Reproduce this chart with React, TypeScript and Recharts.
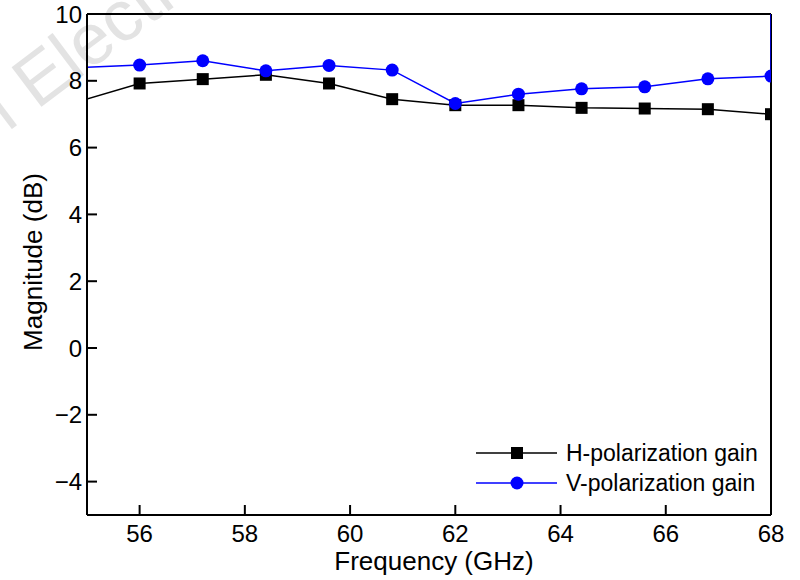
import React from 'react';
import { LineChart, Line, XAxis, YAxis, ReferenceLine, Legend, Customized, Label } from 'recharts';

const frequencies = [54.8, 56, 57.2, 58.4, 59.6, 60.8, 62, 63.2, 64.4, 65.6, 66.8, 68, 68];
const hGain: (number | null)[] = [7.36, 7.92, 8.05, 8.18, 7.92, 7.45, 7.27, 7.27, 7.19, 7.17, 7.15, 7.0, null];
const vGain: (number | null)[] = [8.39, 8.47, 8.6, 8.3, 8.46, 8.32, 7.32, 7.6, 7.76, 7.82, 8.06, 8.14, 10];
const xTicks = [56, 58, 60, 62, 64, 66, 68];
const yTicks = [-4, -2, 0, 2, 4, 6, 8, 10];
const seriesNames = ['H-polarization gain', 'V-polarization gain'];
const markedIndices = [1, 2, 3, 4, 5, 6, 7, 8, 9, 10, 11];

const data = frequencies.map((f, i) => ({ f, h: hGain[i], v: vGain[i] }));

const FONT = '"Liberation Sans", Arial, sans-serif';

const XTick = (props: any) => {
  const { x, y, payload } = props;
  return (
    <g>
      <line x1={x} x2={x} y1={y} y2={y - 10} stroke="#000" strokeWidth={2} />
      <text x={x} y={y + 27} textAnchor="middle" fontSize={24} fontFamily={FONT} fill="#000">
        {payload.value}
      </text>
    </g>
  );
};

const YTick = (props: any) => {
  const { x, y, payload } = props;
  const label = String(payload.value).replace('-', '\u2212');
  return (
    <g>
      <line x1={x} x2={x + 10} y1={y} y2={y} stroke="#000" strokeWidth={2} />
      <text x={x - 5} y={y + 8.5} textAnchor="end" fontSize={24} fontFamily={FONT} fill="#000">
        {label}
      </text>
    </g>
  );
};

const SquareDot = (props: any) => {
  const { cx, cy, index } = props;
  if (!markedIndices.includes(index) || cx == null || cy == null) return <g key={`hs${index}`} />;
  return <rect key={`hs${index}`} x={cx - 6} y={cy - 6} width={12} height={12} fill="#000" />;
};

const CircleDot = (props: any) => {
  const { cx, cy, index } = props;
  if (!markedIndices.includes(index) || cx == null || cy == null) return <g key={`vc${index}`} />;
  return <circle key={`vc${index}`} cx={cx} cy={cy} r={6.5} fill="#0000ff" />;
};

const LegendContent = () => (
  <svg width={300} height={62} style={{ display: 'block', overflow: 'visible' }}>
    <line x1={6} x2={87} y1={15} y2={15} stroke="#000" strokeWidth={1.5} />
    <rect x={41} y={9} width={12} height={12} fill="#000" />
    <text x={96} y={23} fontSize={23} fontFamily={FONT} fill="#000">{seriesNames[0]}</text>
    <line x1={6} x2={87} y1={45} y2={45} stroke="#0000ff" strokeWidth={1.5} />
    <circle cx={47} cy={45} r={6.5} fill="#0000ff" />
    <text x={96} y={53} fontSize={23} fontFamily={FONT} fill="#000">{seriesNames[1]}</text>
  </svg>
);

const Watermark = () => (
  <text
    x={0}
    y={0}
    transform="translate(8,132) rotate(-37)"
    fontSize={72}
    fontFamily={FONT}
    fill="#e3e3e3"
  >
    l Electr
  </text>
);

export default function App() {
  return (
    <div style={{ position: 'absolute', left: 0, top: 0, width: 800, height: 580, background: '#fff' }}>
      <LineChart
        width={800}
        height={580}
        data={data}
        margin={{ top: 14, right: 29, bottom: 0, left: 0 }}
        style={{ fontFamily: FONT }}
      >
        <Customized component={Watermark} />
        <XAxis
          dataKey="f"
          type="number"
          domain={[55, 68]}
          ticks={xTicks}
          allowDataOverflow
          height={65}
          tickSize={0}
          tickMargin={0}
          tickLine={false}
          axisLine={{ stroke: '#000', strokeWidth: 2 }}
          tick={<XTick />}
          interval={0}
        >
          <Label
            content={() => (
              <text x={434} y={570} textAnchor="middle" fontSize={26} fontFamily={FONT} fill="#000">
                Frequency (GHz)
              </text>
            )}
          />
        </XAxis>
        <YAxis
          type="number"
          domain={[-5, 10]}
          ticks={yTicks}
          allowDataOverflow
          width={87}
          tickSize={0}
          tickMargin={0}
          tickLine={false}
          axisLine={{ stroke: '#000', strokeWidth: 2 }}
          tick={<YTick />}
          interval={0}
        >
          <Label
            content={() => (
              <text
                x={0}
                y={0}
                transform="translate(42,262) rotate(-90)"
                textAnchor="middle"
                fontSize={26}
                fontFamily={FONT}
                fill="#000"
              >
                Magnitude (dB)
              </text>
            )}
          />
        </YAxis>
        <ReferenceLine y={10} stroke="#000" strokeWidth={2} ifOverflow="visible" />
        <ReferenceLine x={68} stroke="#000" strokeWidth={2} ifOverflow="visible" />
        <Line
          dataKey="h"
          name={seriesNames[0]}
          stroke="#000"
          strokeWidth={1.5}
          dot={<SquareDot />}
          activeDot={false}
          isAnimationActive={false}
          connectNulls={false}
        />
        <Line
          dataKey="v"
          name={seriesNames[1]}
          stroke="#0000ff"
          strokeWidth={1.5}
          dot={<CircleDot />}
          activeDot={false}
          isAnimationActive={false}
        />
        <Legend
          layout="horizontal"
          verticalAlign="middle"
          align="center"
          content={<LegendContent />}
          wrapperStyle={{ position: 'absolute', left: 470, top: 438, width: 300, height: 62 }}
        />
      </LineChart>
    </div>
  );
}
